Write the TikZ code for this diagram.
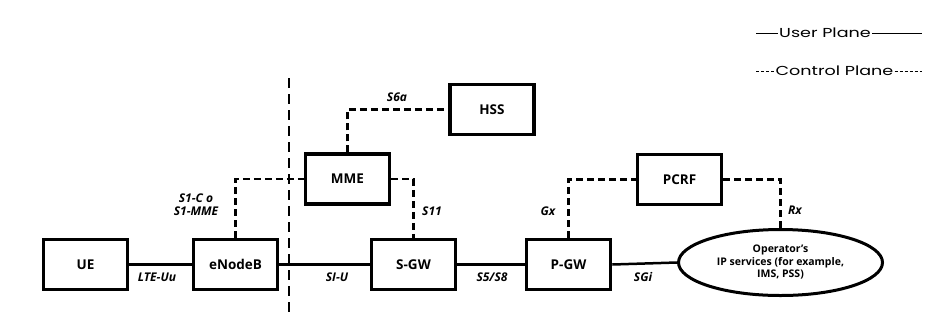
\documentclass[tikz,border=0pt]{standalone}
\usepackage{fontspec}
\setmainfont{Open Sans}
\newfontfamily\legendfont[FakeStretch=1.35]{Poppins}
\usetikzlibrary{shapes.geometric}

\begin{document}
\begin{tikzpicture}[
  x=1pt, y=-1pt,
  epc/.style={
    rectangle,
    draw=black,
    line width=3.5pt,
    fill=white,
    minimum width=84pt,
    minimum height=50pt,
    inner sep=0pt,
    font=\fontsize{13.5}{15}\selectfont\bfseries
  },
  ifname/.style={font=\fontsize{12}{13}\selectfont\bfseries\itshape, inner sep=1pt},
  uplane/.style={line width=2.5pt},
  cplane/.style={line width=2.5pt, dash pattern=on 7pt off 4pt},
  legend/.style={font=\legendfont\fontsize{13}{15}\selectfont, inner sep=1pt}
]
\useasboundingbox (0,0) rectangle (925,325);

% network elements
\node[epc] (ue) at (85.5,264.5) {UE};
\node[epc] (enb) at (235.5,264.5) {eNodeB};
\node[epc] (mme) at (347.5,179) {MME};
\node[epc] (hss) at (492,109.5) {HSS};
\node[epc] (sgw) at (413.5,264.5) {S-GW};
\node[epc] (pgw) at (568.5,264.5) {P-GW};
\node[epc] (pcrf) at (679.5,179.5) {PCRF};
\node[ellipse, draw=black, line width=3pt, fill=white,
      minimum width=204pt, minimum height=66pt, inner sep=0pt, align=center,
      font=\fontsize{10.5}{12.5}\selectfont\bfseries] (ops) at (780.5,262.5)
  {Operator's\\IP services (for example,\\IMS, PSS)};

% access / core divider
\coordinate (divtop) at (289,78);
\coordinate (divbot) at (289,313);
\draw[line width=2.5pt, dash pattern=on 10pt off 6pt] (divtop) -- (divbot);

% user plane
\draw[uplane] (ue.east) -- (enb.west);
\draw[uplane] (enb.east) -- (sgw.west);
\draw[uplane] (sgw.east) -- (pgw.west);
\draw[uplane] (pgw.east) -- (ops.west);

% control plane
\draw[cplane] (enb.north) |- (mme.west);
\draw[cplane] (mme.north) |- (hss.west);
\draw[cplane] (mme.east) -| (sgw.north);
\draw[cplane] (pgw.north) |- (pcrf.west);
\draw[cplane] (pcrf.east) -| (ops.north);

% interface names
\node[ifname] (luu) at (157,277) {LTE-Uu};
\node[ifname, align=center] (s1c) at (196,205) {S1-C o\\S1-MME};
\node[ifname] (s6a) at (397,97) {S6a};
\node[ifname] (s11) at (432,211) {S11};
\node[ifname] (s1u) at (337,277) {SI-U};
\node[ifname] (s5) at (492,277) {S5/S8};
\node[ifname] (gx) at (548,211) {Gx};
\node[ifname] (rx) at (795,210) {Rx};
\node[ifname] (sgi) at (643,277) {SGi};

% legend
\node[legend] (up) at (825,33) {User Plane};
\node[legend] (cp) at (834.5,71) {Control Plane};
\coordinate (upl) at (756,33);
\coordinate (upr) at (922,33);
\coordinate (cpl) at (756,71);
\coordinate (cpr) at (922,71);
\draw[line width=1pt] (upl) -- (up.west);
\draw[line width=1pt] (up.east) -- (upr);
\draw[line width=1pt, dash pattern=on 3pt off 2pt] (cpl) -- (cp.west);
\draw[line width=1pt, dash pattern=on 3pt off 2pt] (cp.east) -- (cpr);

\end{tikzpicture}
\end{document}
